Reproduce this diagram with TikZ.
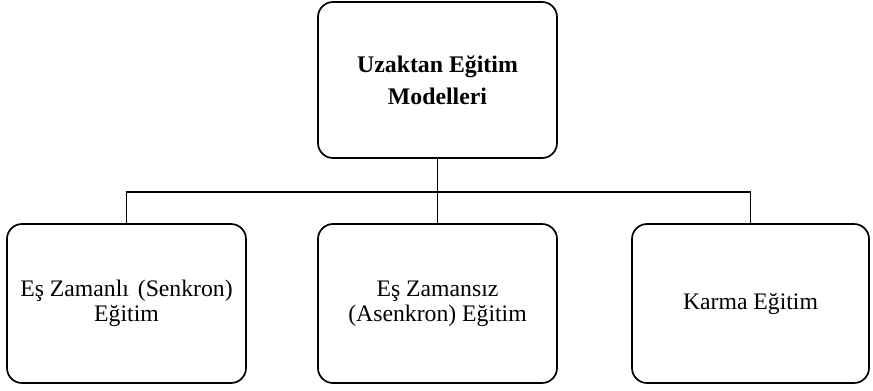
\documentclass[tikz,border=0pt]{standalone}
\usepackage{fontspec}
\setmainfont{Liberation Serif}
\begin{document}
\begin{tikzpicture}[x=1bp,y=-1bp,
  box/.style={draw=black, line width=1.7bp, rounded corners=15bp, fill=white,
    align=center, inner sep=0pt, font=\fontsize{23.7bp}{25bp}\selectfont},
  link/.style={draw=black, line width=1.5bp}]
\useasboundingbox (0,0) rectangle (873,390);
\node[box, minimum width=239bp, minimum height=156bp,
  font=\fontsize{23.8bp}{30bp}\selectfont\bfseries] (top) at (437.5,80)
  {Uzaktan Eğitim\\[2bp]Modelleri};
\node[box, minimum width=239bp, minimum height=159bp] (left) at (126.5,303.5)
  {Eş Zamanlı\hspace{3bp} (Senkron)\\Eğitim};
\node[box, minimum width=239bp, minimum height=159bp] (mid) at (437.5,303.5)
  {Eş Zamansız\\(Asenkron) Eğitim};
\node[box, minimum width=237bp, minimum height=159bp] (right) at (750.5,303.5)
  {Karma Eğitim};
\coordinate (bus) at (437.5,192);
\draw[link] (top.south) -- (mid.north);
\draw[link] (left.north) -- (left.north |- bus) -- (right.north |- bus) -- (right.north);
\end{tikzpicture}
\end{document}
